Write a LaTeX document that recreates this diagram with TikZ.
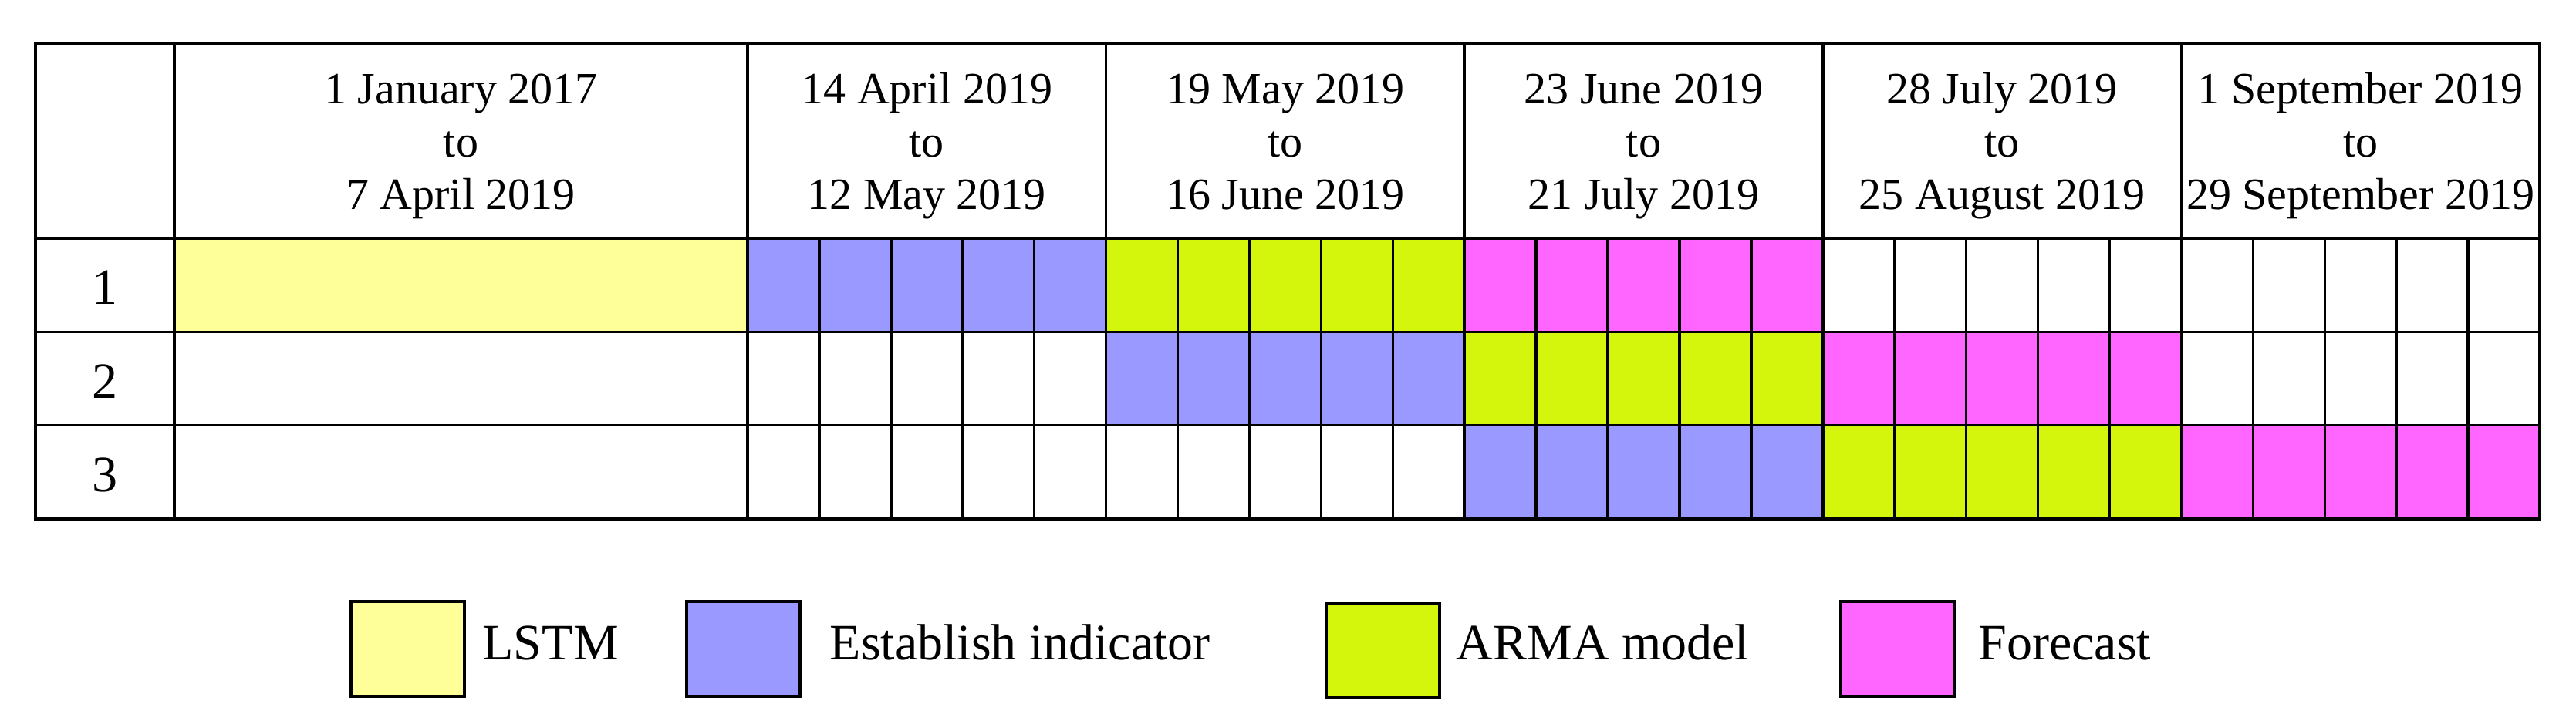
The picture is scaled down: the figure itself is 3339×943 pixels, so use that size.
\documentclass[tikz,border=0pt]{standalone}
\usepackage{fontspec}
\setmainfont{Liberation Serif}
\definecolor{lstmc}{HTML}{FFFF99}
\definecolor{estabc}{HTML}{9999FF}
\definecolor{armac}{HTML}{D4F50C}
\definecolor{fcastc}{HTML}{FF66FF}
\begin{document}
\begin{tikzpicture}[x=0.3pt,y=-0.3pt,
  gridline/.style={line width=1.05pt, draw=black},
  hdr/.style={font=\fontsize{17.4}{20.4}\selectfont, anchor=base, inner sep=0pt},
  rowlab/.style={font=\fontsize{19.8}{23}\selectfont, anchor=base, inner sep=0pt},
  legtext/.style={font=\fontsize{19.8}{23}\selectfont, anchor=base west, inner sep=0pt},
  legbox/.style={line width=1.2pt, draw=black}]
\useasboundingbox[fill=white] (0,0) rectangle (3339,943);
% coloured cells
\fill[lstmc] (226,309) rectangle (969,430.33);
\foreach \r in {0,1,2}{
  \pgfmathsetmacro\yt{309+121.33*\r}
  \pgfmathsetmacro\xs{969+464.6*\r}
  \fill[estabc] (\xs,\yt) rectangle ++(464.6,121.33);
  \fill[armac] ({\xs+464.6},\yt) rectangle ++(464.6,121.33);
  \fill[fcastc] ({\xs+929.2},\yt) rectangle ++(464.6,121.33);
}
% grid
\draw[gridline] (46,56) rectangle (3292,673);
\foreach \y in {309,430.33,551.67}{
  \draw[gridline] (46,\y) -- (3292,\y);
}
\draw[gridline] (226,56) -- (226,673);
\foreach \k in {0,1,2,3,4}{
  \draw[gridline] ({969+464.6*\k},56) -- ({969+464.6*\k},673);
}
\foreach \j in {1,...,24}{
  \draw[gridline] ({969+92.92*\j},309) -- ({969+92.92*\j},673);
}
% header texts
\foreach \cx/\la/\lc [count=\i] in {597.5/1 January 2017/7 April 2019,
    1201.3/14 April 2019/12 May 2019,
    1665.9/19 May 2019/16 June 2019,
    2130.5/23 June 2019/21 July 2019,
    2595.1/28 July 2019/25 August 2019,
    3059.7/1 September 2019/29 September 2019}{
  \node[hdr] (ha\i) at (\cx,134) {\la};
  \node[hdr] (hb\i) at (\cx,203) {to};
  \node[hdr] (hc\i) at (\cx,271) {\lc};
}
% row labels
\node[rowlab] (r1) at (136,394) {1};
\node[rowlab] (r2) at (136,516) {2};
\node[rowlab] (r3) at (136,637) {3};
% legend
\draw[legbox, fill=lstmc] (455,780) rectangle (602,903);
\node[legtext] (l1) at (625,855) {LSTM};
\draw[legbox, fill=estabc] (890,780) rectangle (1037,903);
\node[legtext] (l2) at (1075,855) {Establish indicator};
\draw[legbox, fill=armac] (1719,782) rectangle (1866,905);
\node[legtext] (l3) at (1887,855) {ARMA model};
\draw[legbox, fill=fcastc] (2386,780) rectangle (2533,903);
\node[legtext] (l4) at (2564,855) {Forecast};
\end{tikzpicture}
\end{document}
